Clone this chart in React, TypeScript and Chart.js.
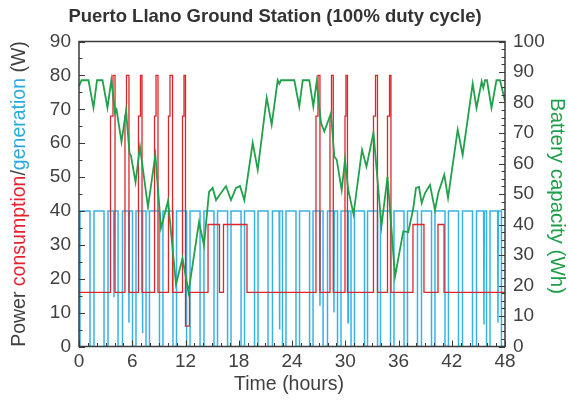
import React, { useEffect, useRef } from "react";
import { Chart, registerables } from "chart.js";

Chart.register(...registerables);

// ---------- DATA ----------
// Generation (blue): times (hours) where generation rises to 40 W and falls to 0 W
const genRiseH = [0.11, 1.69, 3.27, 4.9, 6.42, 7.94, 9.46, 10.99, 12.51, 14.08, 15.61, 17.13, 18.65, 20.17, 21.8, 23.32, 24.85, 26.37, 28.0, 29.52, 31.04, 32.51, 33.97, 35.49, 37.01, 38.59, 40.11, 41.63, 43.21, 44.79, 46.31];
const genFallH = [1.24, 2.82, 4.4, 6.03, 7.55, 9.07, 10.59, 12.12, 13.64, 15.21, 16.74, 18.26, 19.78, 21.3, 22.93, 24.45, 25.98, 27.5, 29.13, 30.65, 32.17, 33.64, 35.1, 36.62, 38.14, 39.72, 41.24, 42.76, 44.34, 45.92, 47.6];
const genHighW = 40;
const genLowW = 0;
// Short generation dips during ground-station passes
const genDipH = [3.94, 5.63, 7.15, 22.59, 27.15, 28.73, 30.31, 45.63, 47.21];
const genDipW = [14.5, 7, 4, 5, 12, 10, 7, 6.5, 7];

// Consumption (red)
const loadBaseW = 16;
const loadMidW = 68;
const loadPeakW = 80;
const loadStepW = 36;
const loadLowW = 6;
const spikeStartH = [3.55, 5.18, 6.7, 8.51, 10.08, 11.66, 26.7, 28.28, 29.97, 33.18, 34.76];
const spikePeakH = [3.83, 5.35, 6.93, 8.68, 10.25, 11.83, 26.93, 28.45, 30.08, 33.41, 34.99];
const spikeEndH = [4.06, 5.63, 7.1, 8.9, 10.54, 12.0, 27.15, 28.65, 30.25, 33.63, 35.15];
const stepStartH = [14.54, 16.28, 37.63, 40.45];
const stepEndH = [15.83, 18.93, 38.87, 41.13];
const lowStartH = [12.0];
const lowEndH = [12.45];

// Battery capacity (green)
const batteryH = [0, 0.28, 1.07, 1.63, 2.03, 2.65, 3.21, 3.64, 4.06, 4.23, 4.79, 5.3, 5.69, 5.86, 6.37, 6.87, 7.77, 8.6, 9.24, 10.03, 10.93, 11.66, 12.34, 13.52, 14.08, 14.65, 15.06, 15.44, 16.0, 16.56, 17.13, 17.69, 18.14, 18.63, 19.57, 20.14, 21.15, 21.71, 22.39, 22.57, 22.76, 24.26, 24.82, 25.21, 25.95, 26.4, 26.78, 27.27, 27.64, 28.39, 28.77, 29.04, 29.6, 29.97, 30.34, 30.93, 31.89, 32.39, 33.18, 34.08, 34.76, 35.61, 36.54, 37.1, 37.67, 37.97, 38.31, 38.61, 38.99, 39.55, 40.11, 40.48, 41.16, 41.58, 42.67, 43.23, 44.36, 44.79, 45.37, 45.55, 45.75, 45.97, 46.48, 47.04, 47.44, 48.0];
const batteryWh = [85.3, 87.3, 87.3, 78.3, 87.3, 87.3, 78.3, 87.3, 76.6, 77.6, 67.1, 77.3, 63.5, 62.5, 53.9, 65.5, 45.7, 62.8, 38.8, 47.7, 20.4, 28.9, 17.8, 40.8, 33.2, 50.7, 52.0, 48.0, 50.3, 52.6, 48.0, 52.0, 52.6, 48.0, 66.8, 57.9, 81.6, 72.7, 87.3, 86.2, 87.3, 87.3, 78.7, 87.3, 87.3, 78.7, 86.9, 73.3, 70.5, 76.5, 62.3, 61.2, 51.3, 61.2, 51.3, 43.4, 64.5, 59.0, 70.1, 39.5, 55.6, 23.0, 37.8, 37.5, 45.4, 52.0, 52.3, 47.0, 50.3, 53.0, 44.7, 50.3, 56.3, 48.7, 71.1, 62.8, 86.2, 78.2, 86.9, 84.8, 87.3, 87.3, 78.2, 87.3, 87.3, 80.4];

const xMin = 0;
const xMax = 48;
const xStep = 6;
const yMax = 90;
const yStep = 10;
const y2Max = 100;
const y2Step = 10;

const titleText = "Puerto Llano Ground Station (100% duty cycle)";
const xTitle = "Time (hours)";
const yTitleParts = [
  { t: "Power ", c: "#404040" },
  { t: "consumption", c: "#e8222a" },
  { t: "/", c: "#404040" },
  { t: "generation", c: "#2aa9e0" },
  { t: " (W)", c: "#404040" },
];
const y2Title = "Battery capacity (Wh)";

// ---------- BUILD SERIES ----------
type P = { x: number; y: number };

function buildGeneration(): P[] {
  const pts: P[] = [{ x: xMin, y: genLowW }];
  genRiseH.forEach((r, i) => {
    const f = genFallH[i];
    pts.push({ x: r, y: genLowW }, { x: r, y: genHighW });
    genDipH.forEach((d, j) => {
      if (d > r && d < f) {
        pts.push({ x: d - 0.04, y: genHighW }, { x: d, y: genDipW[j] }, { x: d + 0.04, y: genHighW });
      }
    });
    pts.push({ x: f, y: genHighW }, { x: f, y: genLowW });
  });
  pts.push({ x: xMax, y: genLowW });
  return pts;
}

function buildConsumption(): P[] {
  const pulses: { s: number; pts: P[] }[] = [];
  spikeStartH.forEach((s, i) => {
    const p = spikePeakH[i];
    const e = spikeEndH[i];
    pulses.push({
      s,
      pts: [
        { x: s, y: loadBaseW }, { x: s, y: loadMidW }, { x: p, y: loadMidW },
        { x: p, y: loadPeakW }, { x: e, y: loadPeakW }, { x: e, y: loadBaseW },
      ],
    });
  });
  stepStartH.forEach((s, i) => {
    const e = stepEndH[i];
    pulses.push({ s, pts: [{ x: s, y: loadBaseW }, { x: s, y: loadStepW }, { x: e, y: loadStepW }, { x: e, y: loadBaseW }] });
  });
  lowStartH.forEach((s, i) => {
    const e = lowEndH[i];
    pulses.push({ s: s + 0.001, pts: [{ x: s, y: loadBaseW }, { x: s, y: loadLowW }, { x: e, y: loadLowW }, { x: e, y: loadBaseW }] });
  });
  pulses.sort((a, b) => a.s - b.s);
  const pts: P[] = [{ x: xMin, y: loadBaseW }];
  pulses.forEach((p) => pts.push(...p.pts));
  pts.push({ x: xMax, y: loadBaseW });
  return pts;
}

const batteryPts: P[] = batteryH.map((h, i) => ({ x: h, y: batteryWh[i] }));

const FONT = "'Liberation Sans', Arial, sans-serif";

const decorPlugin = {
  id: "decor",
  afterDraw(chart: any) {
    const { ctx, chartArea } = chart;
    const { left, right, top, bottom } = chartArea;
    const sx = chart.scales.x;
    const sy = chart.scales.y;
    const sy2 = chart.scales.y2;
    ctx.save();
    // frame
    ctx.strokeStyle = "#3a3a3a";
    ctx.lineWidth = 1.5;
    ctx.strokeRect(left, top, right - left, bottom - top);
    // ticks (inward)
    ctx.lineWidth = 1;
    ctx.beginPath();
    for (let h = xMin; h <= xMax; h += 1) {
      const px = Math.round(sx.getPixelForValue(h)) + 0.5;
      const len = h % xStep === 0 ? 6 : 3.5;
      ctx.moveTo(px, bottom);
      ctx.lineTo(px, bottom - len);
    }
    for (let w = 0; w <= yMax; w += yStep / 2) {
      const py = Math.round(sy.getPixelForValue(w)) + 0.5;
      const len = w % yStep === 0 ? 6 : 3.5;
      ctx.moveTo(left, py);
      ctx.lineTo(left + len, py);
    }
    for (let k = 0; k <= 40; k++) {
      const v = k * 2.5;
      const py = Math.round(sy2.getPixelForValue(v)) + 0.5;
      const len = k % 4 === 0 ? 6 : 3.5;
      ctx.moveTo(right, py);
      ctx.lineTo(right - len, py);
    }
    ctx.stroke();

    // title
    ctx.fillStyle = "#333333";
    ctx.font = `bold 18.5px ${FONT}`;
    ctx.textAlign = "center";
    ctx.textBaseline = "middle";
    ctx.fillText(titleText, 275, 17);

    // x title
    ctx.font = `19.5px ${FONT}`;
    ctx.fillStyle = "#404040";
    ctx.fillText(xTitle, 289, 385);

    // left multi-colour title
    ctx.save();
    ctx.translate(20, 194);
    ctx.rotate(-Math.PI / 2);
    ctx.font = `19.5px ${FONT}`;
    ctx.textAlign = "left";
    const total = yTitleParts.reduce((a, p) => a + ctx.measureText(p.t).width, 0);
    let cx = -total / 2;
    yTitleParts.forEach((p) => {
      ctx.fillStyle = p.c;
      ctx.fillText(p.t, cx, 0);
      cx += ctx.measureText(p.t).width;
    });
    ctx.restore();

    // right title
    ctx.save();
    ctx.translate(557, 196);
    ctx.rotate(Math.PI / 2);
    ctx.font = `20.5px ${FONT}`;
    ctx.fillStyle = "#1e9e4a";
    ctx.textAlign = "center";
    ctx.fillText(y2Title, 0, 0);
    ctx.restore();

    ctx.restore();
  },
};

export default function App() {
  const ref = useRef<HTMLCanvasElement | null>(null);

  useEffect(() => {
    if (!ref.current) return;
    const chart = new Chart(ref.current, {
      type: "line",
      data: {
        datasets: [
          {
            label: "Battery",
            data: batteryPts,
            yAxisID: "y2",
            borderColor: "#22a04b",
            borderWidth: 1.8,
            pointRadius: 0,
            tension: 0,
          },
          {
            label: "Consumption",
            data: buildConsumption(),
            yAxisID: "y",
            borderColor: "#dc262c",
            borderWidth: 1.3,
            pointRadius: 0,
            tension: 0,
          },
          {
            label: "Generation",
            data: buildGeneration(),
            yAxisID: "y",
            borderColor: "#38b2e4",
            borderWidth: 1.5,
            pointRadius: 0,
            tension: 0,
          },
        ],
      },
      options: {
        responsive: false,
        animation: false,
        devicePixelRatio: 1,
        layout: { padding: { top: 41.5, left: 0, right: 0, bottom: 0 } },
        plugins: { legend: { display: false }, tooltip: { enabled: false }, title: { display: false } },
        scales: {
          x: {
            type: "linear",
            min: xMin,
            max: xMax,
            grid: { display: false, drawTicks: false },
            border: { display: false },
            ticks: { stepSize: xStep, padding: 4, color: "#404040", font: { size: 19, family: FONT } },
            afterFit: (s: any) => { s.height = 53.5; },
          },
          y: {
            position: "left",
            min: 0,
            max: yMax,
            grid: { display: false, drawTicks: false },
            border: { display: false },
            ticks: { stepSize: yStep, padding: 8, color: "#404040", font: { size: 19, family: FONT } },
            afterFit: (s: any) => { s.width = 79; },
          },
          y2: {
            position: "right",
            min: 0,
            max: y2Max,
            grid: { display: false, drawTicks: false },
            border: { display: false },
            ticks: { stepSize: y2Step, padding: 8, color: "#404040", font: { size: 19, family: FONT } },
            afterFit: (s: any) => { s.width = 63; },
          },
        },
      },
      plugins: [decorPlugin],
    });
    return () => chart.destroy();
  }, []);

  return (
    <div style={{ position: "fixed", left: 0, top: 0, width: 568, height: 400, background: "#fff" }}>
      <canvas ref={ref} width={568} height={400} />
    </div>
  );
}
